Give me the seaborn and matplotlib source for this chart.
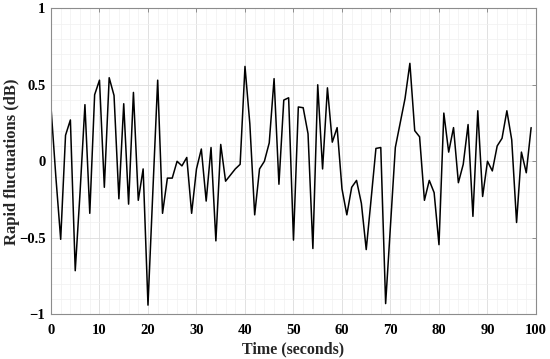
import numpy as np
import pandas as pd
import seaborn as sns
import matplotlib.pyplot as plt
from matplotlib.ticker import MultipleLocator

# Time axis (seconds) and rapid fluctuation values (dB)
time_s = list(range(100))
fluct_db = [
    0.355, -0.10, -0.51, 0.17, 0.27, -0.715, -0.20, 0.37, -0.34, 0.435,
    0.53, -0.17, 0.546, 0.43, -0.245, 0.376, -0.28, 0.45, -0.255, -0.05,
    -0.94, -0.20, 0.53, -0.34, -0.11, -0.11, 0.0, -0.03, 0.025, -0.34,
    -0.05, 0.08, -0.26, 0.09, -0.52, 0.11, -0.13, -0.09, -0.05, -0.02,
    0.62, 0.245, -0.35, -0.05, 0.0, 0.12, 0.54, -0.15, 0.40, 0.415,
    -0.515, 0.355, 0.35, 0.18, -0.57, 0.50, -0.05, 0.48, 0.125, 0.22,
    -0.18, -0.35, -0.17, -0.125, -0.275, -0.577, -0.25, 0.084, 0.09, -0.93,
    -0.42, 0.09, 0.25, 0.41, 0.64, 0.20, 0.16, -0.255, -0.125, -0.205,
    -0.545, 0.315, 0.06, 0.22, -0.14, -0.02, 0.24, -0.36, 0.33, -0.23,
    0.0, -0.063, 0.10, 0.15, 0.33, 0.14, -0.40, 0.06, -0.075, 0.22,
]
x_ticks = list(range(0, 101, 10))
y_ticks = [-1, -0.5, 0, 0.5, 1]
y_ticklabels = ['\u22121', '\u22120.5', '0', '0.5', '1']

df = pd.DataFrame({'t': time_s, 'v': fluct_db})

sns.set_style('white')
plt.rcParams['font.family'] = ['Liberation Serif', 'DejaVu Serif']
plt.rcParams['font.weight'] = 'bold'

fig = plt.figure(figsize=(5.5, 3.59), dpi=100)
ax = fig.add_axes([0.0927, 0.1245, 0.8818, 0.8525])

sns.lineplot(data=df, x='t', y='v', ax=ax, color='black', linewidth=1.1)

ax.set_xlim(0, 100)
ax.set_ylim(-1, 1)
ax.set_xticks(x_ticks)
ax.set_xticklabels([str(v) for v in x_ticks], fontsize=10.5, fontweight='bold')
ax.set_yticks(y_ticks)
ax.set_yticklabels(y_ticklabels, fontsize=10.5, fontweight='bold')
ax.xaxis.set_minor_locator(MultipleLocator(2))
ax.yaxis.set_minor_locator(MultipleLocator(0.1))

ax.grid(which='major', color='#dcdcdc', linewidth=0.6)
ax.grid(which='minor', color='#f0f0f0', linewidth=0.5)
ax.set_axisbelow(True)

ax.tick_params(which='major', direction='in', length=3, width=0.6, colors='#808080',
               labelcolor='black', top=True, right=True)
ax.tick_params(axis='x', which='major', pad=7)
ax.tick_params(axis='y', which='major', pad=4)
ax.tick_params(which='minor', length=0)
for s in ax.spines.values():
    s.set_color('#8c8c8c')
    s.set_linewidth(0.8)

ax.set_xlabel('Time (seconds)', fontsize=11.5, fontweight='bold', labelpad=3)
ax.set_ylabel('Rapid fluctuations (dB)', fontsize=12, fontweight='bold')
ax.yaxis.set_label_coords(-0.064, 0.5)

fig.savefig('out.png', dpi=100)
